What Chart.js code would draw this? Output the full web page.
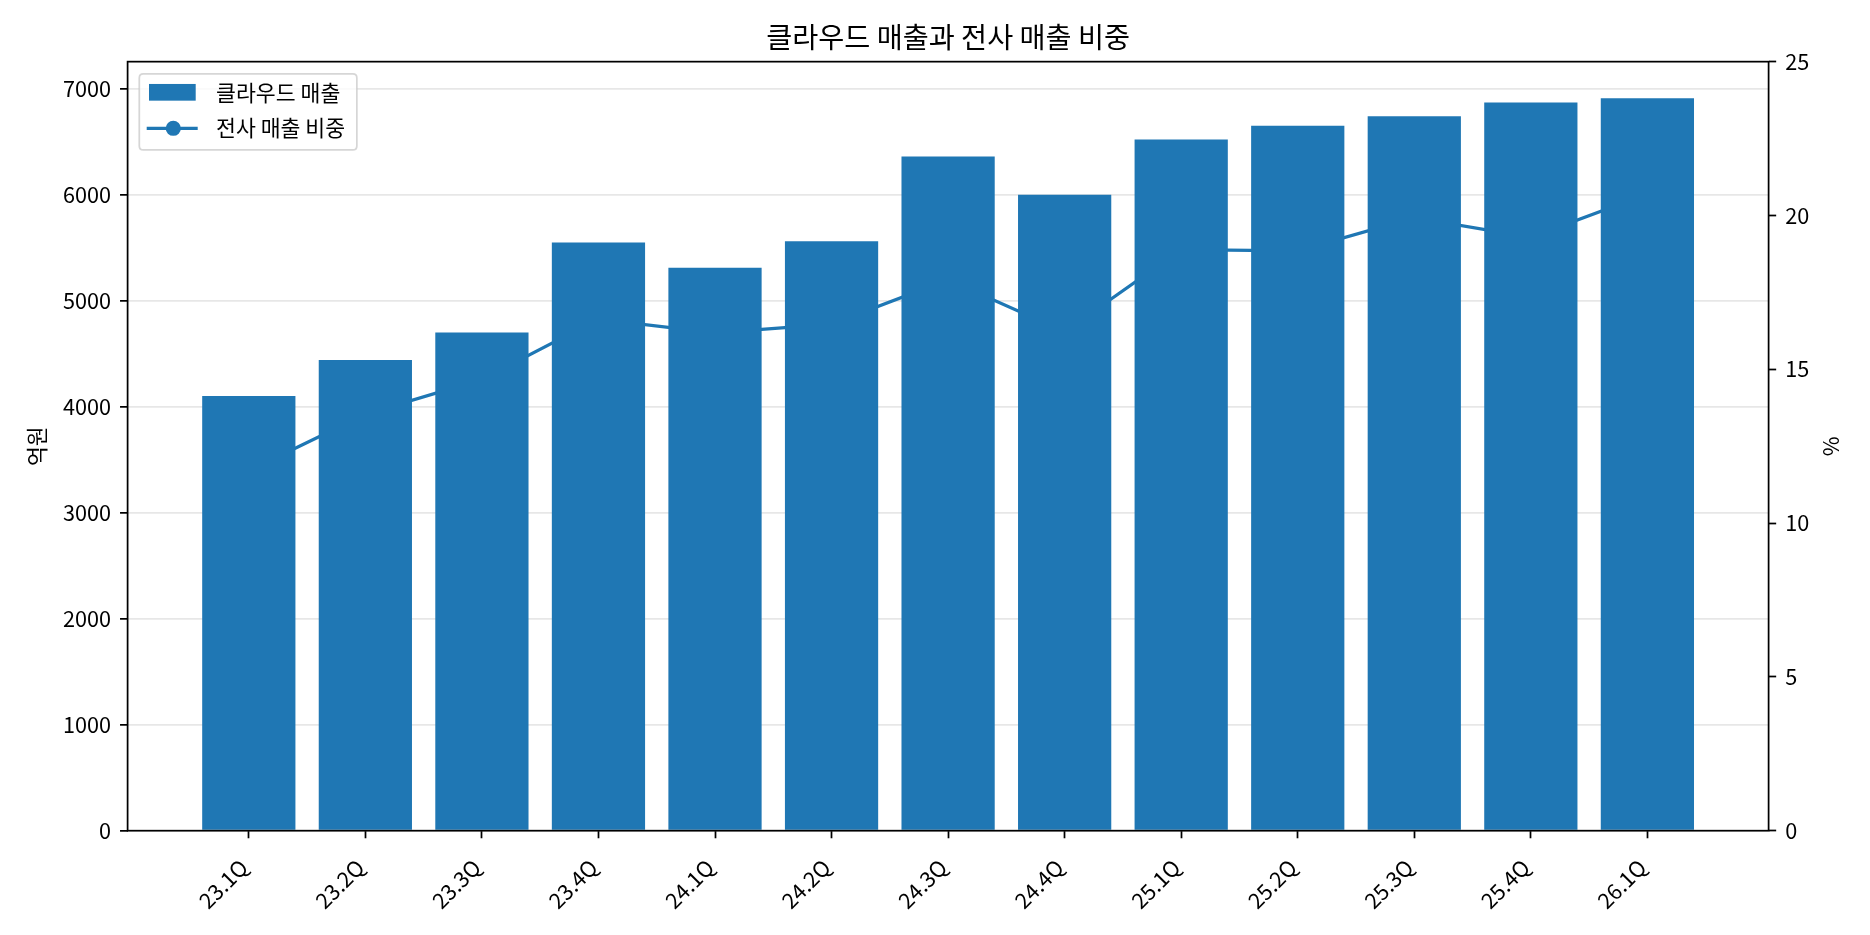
<!DOCTYPE html>
<html>
<head>
<meta charset="utf-8">
<script src="https://cdn.jsdelivr.net/npm/chart.js@4.4.1/dist/chart.umd.min.js"></script>
<style>
html, body { margin: 0; padding: 0; background: #ffffff; }
#wrap { width: 1870px; height: 935px; position: relative; }
</style>
</head>
<body>
<div id="wrap"><canvas id="c"></canvas></div>
<script>
// ---- data ----
const categories = ['23.1Q', '23.2Q', '23.3Q', '23.4Q', '24.1Q', '24.2Q', '24.3Q', '24.4Q', '25.1Q', '25.2Q', '25.3Q', '25.4Q', '26.1Q'];
const cloudRevenue = [4100, 4440, 4700, 5550, 5310, 5560, 6360, 6000, 6520, 6650, 6740, 6870, 6910];
const revenueShare = [11.70, 13.54, 14.67, 16.63, 16.18, 16.47, 17.91, 16.22, 18.89, 18.85, 19.93, 19.29, 20.70];
const leftTicks = [0, 1000, 2000, 3000, 4000, 5000, 6000, 7000];
const rightTicks = [0, 5, 10, 15, 20, 25];
const titleText = '클라우드 매출과 전사 매출 비중';
const barLabel = '클라우드 매출';
const lineLabel = '전사 매출 비중';
const leftAxisTitle = '억원';
const rightAxisTitle = '%';

// ---- style ----
const FONT = "'Noto Sans CJK JP', 'Noto Sans CJK KR', 'Noto Sans', sans-serif";
const FS = 21.65;
const BLUE = '#1f77b4';
const TICK_LEN = 7.57, TICK_W = 1.73;

Chart.defaults.font.family = FONT;
Chart.defaults.color = '#000';

const n = categories.length;
const xPad = 0.05 * (n - 1 + 0.8);
const xMin = -0.4 - xPad, xMax = n - 1 + 0.4 + xPad;
const yMax = Math.max(...cloudRevenue) * 1.05;

const framePlugin = {
  id: 'frame',
  afterDraw(chart) {
    const { ctx, chartArea: a } = chart;
    ctx.save();
    ctx.strokeStyle = '#000';
    ctx.lineWidth = 1.73;
    ctx.strokeRect(a.left, a.top, a.right - a.left, a.bottom - a.top);
    // right axis title, reading bottom-to-top like the original
    ctx.font = FS + 'px ' + FONT;
    ctx.fillStyle = '#000';
    ctx.textAlign = 'center';
    ctx.textBaseline = 'middle';
    ctx.translate(a.right + 62.1, (a.top + a.bottom) / 2);
    ctx.rotate(-Math.PI / 2);
    ctx.fillText(rightAxisTitle, 0, 0);
    ctx.restore();
  }
};

const legendPlugin = {
  id: 'mplLegend',
  afterDraw(chart) {
    const { ctx, chartArea: a } = chart;
    const ds = chart.data.datasets;
    ctx.save();
    ctx.font = FS + 'px ' + FONT;
    const tw = Math.max(ctx.measureText(ds[0].label).width, ctx.measureText(ds[1].label).width);
    const x0 = a.left + 11.7, y0 = a.top + 12.3;
    const w = 88.4 + tw + 11.7 - 11.7, h = 76;
    const r = 4;
    ctx.beginPath();
    ctx.moveTo(x0 + r, y0);
    ctx.lineTo(x0 + w - r, y0);
    ctx.quadraticCurveTo(x0 + w, y0, x0 + w, y0 + r);
    ctx.lineTo(x0 + w, y0 + h - r);
    ctx.quadraticCurveTo(x0 + w, y0 + h, x0 + w - r, y0 + h);
    ctx.lineTo(x0 + r, y0 + h);
    ctx.quadraticCurveTo(x0, y0 + h, x0, y0 + h - r);
    ctx.lineTo(x0, y0 + r);
    ctx.quadraticCurveTo(x0, y0, x0 + r, y0);
    ctx.closePath();
    ctx.fillStyle = 'rgba(255,255,255,0.8)';
    ctx.fill();
    ctx.strokeStyle = 'rgba(204,204,204,0.8)';
    ctx.lineWidth = 1.73;
    ctx.stroke();
    // bar handle
    ctx.fillStyle = ds[0].backgroundColor;
    ctx.fillRect(a.left + 21.4, a.top + 22.3, 46.7, 16.7);
    // line handle
    const ly = a.top + 66.6;
    ctx.strokeStyle = ds[1].borderColor;
    ctx.lineWidth = 3.25;
    ctx.beginPath();
    ctx.moveTo(a.left + 19.1, ly);
    ctx.lineTo(a.left + 70.1, ly);
    ctx.stroke();
    ctx.beginPath();
    ctx.arc(a.left + 45.7, ly, 7.6, 0, Math.PI * 2);
    ctx.fillStyle = ds[1].borderColor;
    ctx.fill();
    // texts
    ctx.fillStyle = '#000';
    ctx.textBaseline = 'middle';
    ctx.textAlign = 'left';
    ctx.fillText(ds[0].label, a.left + 88.4, a.top + 31.6);
    ctx.fillText(ds[1].label, a.left + 88.4, ly);
    ctx.restore();
  }
};

new Chart(document.getElementById('c'), {
  type: 'bar',
  data: {
    datasets: [
      {
        type: 'bar',
        label: barLabel,
        data: categories.map((c, i) => ({ x: i, y: cloudRevenue[i] })),
        backgroundColor: BLUE,
        borderWidth: 0,
        barPercentage: 0.8,
        categoryPercentage: 1.0,
        xAxisID: 'x',
        yAxisID: 'y',
        order: 0
      },
      {
        type: 'line',
        label: lineLabel,
        data: categories.map((c, i) => ({ x: i, y: revenueShare[i] })),
        borderColor: BLUE,
        backgroundColor: BLUE,
        borderWidth: 3.25,
        pointRadius: 6.5,
        pointBorderWidth: 2.16,
        pointBackgroundColor: BLUE,
        pointBorderColor: BLUE,
        tension: 0,
        fill: false,
        xAxisID: 'x',
        yAxisID: 'y1',
        order: 1
      }
    ]
  },
  options: {
    responsive: true,
    maintainAspectRatio: false,
    devicePixelRatio: 1,
    animation: false,
    layout: { padding: 0 },
    plugins: {
      legend: { display: false },
      tooltip: { enabled: false },
      title: {
        display: true,
        fullSize: false,
        text: titleText,
        color: '#000',
        font: { size: 28.3, weight: 'normal', family: FONT },
        padding: { top: 20.5, bottom: 7.2 }
      }
    },
    scales: {
      x: {
        type: 'linear',
        min: xMin,
        max: xMax,
        offset: false,
        afterBuildTicks: (s) => { s.ticks = categories.map((c, i) => ({ value: i })); },
        afterFit: (s) => { s.height = 104.3; },
        ticks: {
          autoSkip: false,
          minRotation: 45,
          maxRotation: 45,
          padding: 16,
          labelOffset: -5,
          color: '#000',
          font: { size: FS },
          callback: (v) => categories[v] !== undefined ? categories[v] : ''
        },
        grid: {
          offset: false,
          drawOnChartArea: false,
          drawTicks: true,
          tickLength: TICK_LEN,
          tickWidth: TICK_W,
          tickColor: '#000'
        },
        border: { display: false }
      },
      y: {
        position: 'left',
        min: 0,
        max: yMax,
        z: 1,
        afterBuildTicks: (s) => { s.ticks = leftTicks.map(v => ({ value: v })); },
        afterFit: (s) => { s.width = 127.6; },
        ticks: { color: '#000', font: { size: FS }, padding: 9, callback: (v) => String(v) },
        grid: {
          color: 'rgba(176,176,176,0.3)',
          lineWidth: 1.73,
          tickLength: TICK_LEN,
          tickWidth: TICK_W,
          tickColor: '#000'
        },
        border: { display: false },
        title: {
          display: true,
          text: leftAxisTitle,
          color: '#000',
          font: { size: FS },
          padding: { top: 23.4, bottom: 0 }
        }
      },
      y1: {
        position: 'right',
        min: 0,
        max: 25,
        afterBuildTicks: (s) => { s.ticks = rightTicks.map(v => ({ value: v })); },
        afterFit: (s) => { s.width = 101.4; },
        ticks: { color: '#000', font: { size: FS }, padding: 9, callback: (v) => String(v) },
        grid: {
          drawOnChartArea: false,
          drawTicks: true,
          tickLength: TICK_LEN,
          tickWidth: TICK_W,
          tickColor: '#000'
        },
        border: { display: false }
      }
    }
  },
  plugins: [framePlugin, legendPlugin]
});
</script>
</body>
</html>
